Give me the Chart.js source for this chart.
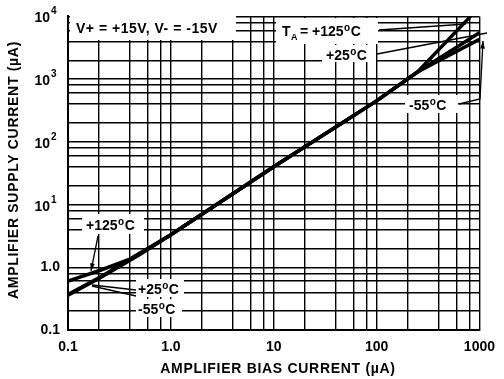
<!DOCTYPE html>
<html>
<head>
<meta charset="utf-8">
<script src="https://cdn.jsdelivr.net/npm/chart.js@4.4.1/dist/chart.umd.min.js"></script>
<style>
  html, body { margin: 0; padding: 0; background: #fff; }
  #wrap { width: 504px; height: 379px; }
</style>
</head>
<body>
<div id="wrap"><canvas id="chart" width="504" height="379"></canvas></div>
<script>
// bias current (uA) vs supply current (uA)
var biasP125 = [0.1, 0.2, 0.4, 1, 10, 100, 250, 820];
var supplyP125 = [0.6, 0.88, 1.35, 3.3, 40, 450, 1300, 10000];

var biasP25 = [0.1, 0.2, 0.5, 1, 10, 100, 250, 1000];
var supplyP25 = [0.37, 0.68, 1.65, 3.3, 40, 450, 1300, 5500];

var biasM55 = [0.1, 0.2, 0.5, 1, 10, 100, 250, 1000];
var supplyM55 = [0.36, 0.66, 1.6, 3.3, 40, 450, 1300, 4300];

// grid lines of the log paper (1, 2, 4, 6, 8 per decade)
var xGrid = [0.1, 0.2, 0.4, 0.6, 0.8, 1, 2, 4, 6, 8, 10, 20, 40, 60, 80, 100, 200, 400, 600, 800, 1000];
var yGrid = [0.1, 0.2, 0.4, 0.6, 0.8, 1, 2, 4, 6, 8, 10, 20, 40, 60, 80, 100, 200, 400, 600, 800, 1000, 2000, 4000, 6000, 8000, 10000];

var xTickLabels = { 0.1: '0.1', 1: '1.0', 10: '10', 100: '100', 1000: '1000' };
var yTickLabels = { 0.1: '0.1', 1: '1.0' };
// decades drawn as 10 with a raised exponent
var yPowerTicks = [10, 100, 1000, 10000];
var yPowerExp = ['1', '2', '3', '4'];

var FONT = '"Liberation Sans", Arial, Helvetica, sans-serif';

function toPoints(xs, ys) {
    return xs.map(function (x, i) { return { x: x, y: ys[i] }; });
}

function lineSet(label, xs, ys) {
    return {
        label: label,
        data: toPoints(xs, ys),
        showLine: true,
        borderColor: '#000',
        borderWidth: 3.5,
        pointRadius: 0,
        tension: 0,
        fill: false
    };
}

// temperature label like "+25°C" with a raised small o
function drawTemp(ctx, x, y, value) {
    ctx.font = 'bold 14px ' + FONT;
    ctx.fillText(value, x, y);
    var w = ctx.measureText(value).width;
    ctx.font = 'bold 10px ' + FONT;
    ctx.fillText('o', x + w + 0.5, y - 5);
    var wo = ctx.measureText('o').width;
    ctx.font = 'bold 14px ' + FONT;
    ctx.fillText('C', x + w + wo + 1, y);
}

function whiteBox(ctx, x, y, w, h) {
    ctx.fillStyle = '#fff';
    ctx.fillRect(x, y, w, h);
    ctx.fillStyle = '#000';
}

function leader(ctx, pts, arrow) {
    ctx.beginPath();
    ctx.moveTo(pts[0][0], pts[0][1]);
    for (var i = 1; i < pts.length; i++) ctx.lineTo(pts[i][0], pts[i][1]);
    ctx.stroke();
    if (arrow) {
        var a = pts[pts.length - 1], b = pts[pts.length - 2];
        var ang = Math.atan2(a[1] - b[1], a[0] - b[0]);
        ctx.beginPath();
        ctx.moveTo(a[0], a[1]);
        ctx.lineTo(a[0] - 8 * Math.cos(ang - 0.3), a[1] - 8 * Math.sin(ang - 0.3));
        ctx.lineTo(a[0] - 8 * Math.cos(ang + 0.3), a[1] - 8 * Math.sin(ang + 0.3));
        ctx.closePath();
        ctx.fill();
    }
}

var labelsPlugin = {
    id: 'paperLabels',
    beforeDatasetsDraw: function (chart) {
        var ctx = chart.ctx;
        ctx.save();
        // blank the grid behind the text blocks
        whiteBox(ctx, 70, 15, 166, 25);
        whiteBox(ctx, 276, 18, 102, 26);
        whiteBox(ctx, 322, 45, 54, 17);
        whiteBox(ctx, 405, 95, 53, 18);
        whiteBox(ctx, 82, 214, 62, 20);
        whiteBox(ctx, 136, 279, 48, 18);
        whiteBox(ctx, 136, 299, 46, 18);
        ctx.restore();
    },
    afterDatasetsDraw: function (chart) {
        var ctx = chart.ctx;
        var yScale = chart.scales.y;
        ctx.save();
        ctx.fillStyle = '#000';
        ctx.strokeStyle = '#000';
        ctx.lineWidth = 1.3;
        ctx.textBaseline = 'alphabetic';
        ctx.textAlign = 'left';

        // y decade labels 10^1 .. 10^4
        yPowerTicks.forEach(function (v, i) {
            var py = yScale.getPixelForValue(v);
            ctx.font = 'bold 14px ' + FONT;
            ctx.textAlign = 'right';
            ctx.fillText('10', 50, py + 6);
            ctx.font = 'bold 10px ' + FONT;
            ctx.textAlign = 'left';
            ctx.fillText(yPowerExp[i], 51, py - 2);
        });

        ctx.font = 'bold 14px ' + FONT;
        ctx.letterSpacing = '0.5px';
        ctx.fillText('V+ = +15V, V- = -15V', 76, 33);
        ctx.letterSpacing = '0px';

        // T_A = +125°C
        ctx.font = 'bold 14px ' + FONT;
        ctx.fillText('T', 282, 36);
        ctx.font = 'bold 9px ' + FONT;
        ctx.fillText('A', 291, 40);
        drawTemp(ctx, 300, 36, '= +125');
        drawTemp(ctx, 326, 60, '+25');
        drawTemp(ctx, 409, 110, '-55');

        drawTemp(ctx, 86, 230, '+125');
        drawTemp(ctx, 138, 294, '+25');
        drawTemp(ctx, 138, 314, '-55');

        // leader lines
        leader(ctx, [[379, 30], [466, 24]], false);
        leader(ctx, [[377, 54], [487, 33]], false);
        leader(ctx, [[459, 104], [480, 99], [483, 41]], true);
        leader(ctx, [[98, 236], [91, 271]], true);
        leader(ctx, [[136, 290], [92, 285]], false);
        leader(ctx, [[136, 296], [92, 286]], false);

        // axis titles
        ctx.font = 'bold 14px ' + FONT;
        ctx.letterSpacing = '0.7px';
        ctx.textAlign = 'center';
        ctx.textBaseline = 'middle';
        ctx.fillText('AMPLIFIER BIAS CURRENT (\u00B5A)', 278, 369);
        ctx.translate(14, 170);
        ctx.rotate(-Math.PI / 2);
        ctx.fillText('AMPLIFIER SUPPLY CURRENT (\u00B5A)', 0, 0);
        ctx.restore();
    }
};

var chart = new Chart(document.getElementById('chart'), {
    type: 'scatter',
    data: {
        datasets: [
            lineSet('+125°C', biasP125, supplyP125),
            lineSet('+25°C', biasP25, supplyP25),
            lineSet('-55°C', biasM55, supplyM55)
        ]
    },
    options: {
        responsive: false,
        animation: false,
        layout: { padding: { top: 13, right: 15, left: 0, bottom: 0 } },
        plugins: {
            legend: { display: false },
            tooltip: { enabled: false }
        },
        scales: {
            x: {
                type: 'logarithmic',
                min: 0.1,
                max: 1000,
                afterBuildTicks: function (scale) {
                    scale.ticks = xGrid.map(function (v) { return { value: v }; });
                },
                afterFit: function (scale) { scale.height = 49; },
                grid: { color: '#000', lineWidth: 1.4, drawTicks: false },
                border: { display: true, color: '#000', width: 2 },
                ticks: {
                    autoSkip: false,
                    maxRotation: 0,
                    padding: 9,
                    color: '#000',
                    font: { family: FONT, size: 14, weight: 'bold' },
                    callback: function (v) { return xTickLabels[v] || ''; }
                }
            },
            y: {
                type: 'logarithmic',
                min: 0.1,
                max: 10000,
                afterBuildTicks: function (scale) {
                    scale.ticks = yGrid.map(function (v) { return { value: v }; });
                },
                afterFit: function (scale) { scale.width = 68; },
                grid: { color: '#000', lineWidth: 1.4, drawTicks: false },
                border: { display: true, color: '#000', width: 2 },
                ticks: {
                    autoSkip: false,
                    padding: 8,
                    color: '#000',
                    font: { family: FONT, size: 14, weight: 'bold' },
                    callback: function (v) { return yTickLabels[v] || ''; }
                }
            }
        }
    },
    plugins: [labelsPlugin]
});
</script>
</body>
</html>
